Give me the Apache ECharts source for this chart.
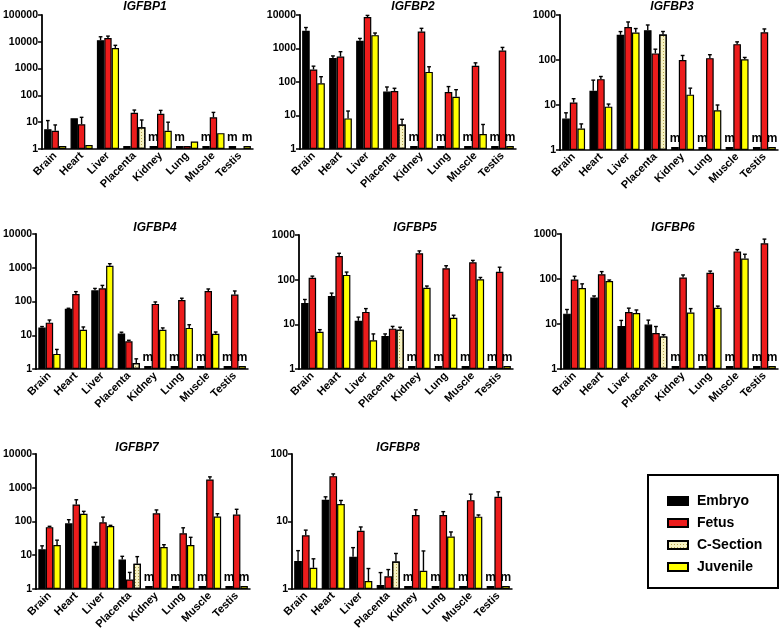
<!DOCTYPE html>
<html>
<head>
<meta charset="utf-8">
<script src="https://cdn.jsdelivr.net/npm/echarts@6/dist/echarts.min.js"></script>
<style>html,body{margin:0;padding:0;background:#fff;}#c{width:781px;height:632px;}</style>
</head>
<body>
<div id="c"></div>
<script>
// ---------- DATA ----------
const categories = ['Brain', 'Heart', 'Liver', 'Placenta', 'Kidney', 'Lung', 'Muscle', 'Testis'];
const panelNames = ['IGFBP1', 'IGFBP2', 'IGFBP3', 'IGFBP4', 'IGFBP5', 'IGFBP6', 'IGFBP7', 'IGFBP8'];
const yMax = [100000, 10000, 1000, 10000, 1000, 1000, 10000, 100];
const M = 'm'; // missing sample, shown as "m"

// one row per panel (IGFBP1..IGFBP8), one column per tissue
const embryo = [
  [5.5, 14, 11500, 1.1, M, M, M, M],
  [3370, 520, 1700, 52, M, M, M, M],
  [5.0, 20.7, 363, 460, M, M, M, M],
  [17.1, 61, 214, 11.3, M, M, M, M],
  [30, 43, 12, 5.5, M, M, M, M],
  [17, 39, 9, 9.7, M, M, M, M],
  [15, 88, 19, 7.5, M, M, M, M],
  [2.6, 21, 3.0, 1.15, M, M, M, M]
];
const embryoErr = [
  [6, 0, 3900, 0, 0, 0, 0, 0],
  [860, 80, 300, 19, 0, 0, 0, 0],
  [1.7, 15, 65, 140, 0, 0, 0, 0],
  [1, 2, 30, 1, 0, 0, 0, 0],
  [6, 7, 2.5, 0.6, 0, 0, 0, 0],
  [4, 3, 3, 2.5, 0, 0, 0, 0],
  [4, 25, 5, 1.8, 0, 0, 0, 0],
  [1.1, 2.2, 1.1, 0.6, 0, 0, 0, 0]
];
const fetus = [
  [4.8, 8.4, 13800, 22.6, 20.8, 1.1, 15.2, null],
  [237, 573, 8720, 54, 3200, 50, 303, 868],
  [11.4, 37.5, 543, 140, 100, 110, 225, 414],
  [23.6, 166, 245, 6.6, 85, 110, 205, 160],
  [110, 340, 19, 8, 390, 180, 245, 150],
  [97, 128, 18.5, 6.3, 108, 138, 410, 620],
  [68, 320, 95, 1.9, 175, 45, 1750, 160],
  [6.25, 47, 7.3, 1.54, 12.5, 12.5, 20.7, 23.2]
];
const fetusErr = [
  [3.1, 6.8, 2500, 5.8, 6.8, 0, 8, 0],
  [60, 230, 1000, 11, 800, 23, 70, 210],
  [2.4, 5.5, 157, 34, 26, 21, 28, 76],
  [4.7, 30, 55, 0.5, 12, 15, 30, 45],
  [10, 50, 3.5, 1, 50, 25, 25, 40],
  [18, 18, 4, 2.5, 15, 12, 40, 150],
  [4, 120, 40, 1.2, 45, 20, 350, 70],
  [1.2, 3.7, 1.0, 0.4, 2.4, 1.5, 4.7, 4.3]
];
const juvenile = [
  [1.1, 1.4, 5900, null, 4.8, 1.9, 3.9, M],
  [91, 8.2, 2500, null, 200, 36, 2.8, M],
  [3.0, 9.2, 407, null, 17, 7.6, 104, M],
  [2.8, 14.6, 1150, null, 14.5, 16.5, 11, M],
  [6.8, 128, 4.4, null, 66, 14, 102, M],
  [63, 90, 17.5, null, 18, 23, 285, M],
  [20, 170, 73, null, 17.5, 20, 140, M],
  [2.06, 18.1, 1.31, null, 1.86, 6.0, 11.8, M]
];
const juvenileErr = [
  [0, 0, 1500, 0, 5.2, 0, 0, 0],
  [53, 5.4, 400, 0, 85, 23, 2.6, 0],
  [0.8, 1.3, 93, 0, 6.7, 2.4, 10, 0],
  [1.0, 3, 170, 0, 2, 4, 1.5, 0],
  [0.8, 20, 1.7, 0, 6, 2, 10, 0],
  [15, 5, 3, 0, 4, 2, 70, 0],
  [8, 30, 4, 0, 3, 14, 30, 0],
  [0.74, 2.4, 0.7, 0, 1.8, 1.0, 0.7, 0]
];
// C-Section only exists for Placenta
const cSectionPlacenta = [6.5, 5.4, 370, 1.5, 7.6, 5.3, 5.6, 2.56];
const cSectionPlacentaErr = [5.6, 2.3, 60, 0.5, 1, 0.5, 3.5, 0.8];

// ---------- LAYOUT / STYLE ----------
const grids = [
  {left: 40, top: 15, width: 213, height: 134},
  {left: 300, top: 15, width: 216, height: 134},
  {left: 560, top: 15, width: 218, height: 135},
  {left: 32, top: 234, width: 216, height: 135},
  {left: 299, top: 235, width: 214, height: 134},
  {left: 561, top: 234, width: 217, height: 135},
  {left: 32, top: 454, width: 218, height: 136},
  {left: 292, top: 454, width: 220, height: 136}
];
const titlePos = [[145, 1], [413, 1], [672, 1], [155, 222], [415, 222], [673, 222], [137, 442], [398, 442]];
const FONT = 'Liberation Sans, Arial, sans-serif';
const GAP = 0.16;
const STUB = 1.05;
const colors = {Embryo: '#000000', Fetus: '#ec1c1c', 'C-Section': '#f6f2c2', Juvenile: '#ffff00'};

const mLabel = {show: true, position: 'top', distance: 2, formatter: 'm', color: '#000',
  fontWeight: 'bold', fontSize: 12, fontFamily: FONT};

function barData(arr) {
  return arr.map(v => {
    if (v === M) return {value: STUB, label: mLabel};
    if (v === null) return '-';
    return v;
  });
}

function barSeries(name, xi, yi, data, extra) {
  return Object.assign({
    name, type: 'bar', xAxisIndex: xi, yAxisIndex: yi, data,
    barGap: '0%', barCategoryGap: (GAP * 100) + '%', barMinHeight: 3,
    itemStyle: {color: colors[name], borderColor: '#000', borderWidth: 1.2},
    emphasis: {disabled: true}, animation: false
  }, extra || {});
}

function renderErr(params, api) {
  const cat = api.value(0), slot = api.value(1), v = api.value(2), e = api.value(3);
  const band = api.size([1, 0], [0, 1])[0];
  const gw = band * (1 - GAP);
  const bw = gw / 3;
  const p0 = api.coord([cat, v]);
  const p1 = api.coord([cat, v + e]);
  const x = p0[0] - gw / 2 + bw * (slot + 0.5);
  const cap = bw * 0.5;
  const st = {stroke: '#000', lineWidth: 1.4};
  return {type: 'group', children: [
    {type: 'line', shape: {x1: x, y1: p0[1], x2: x, y2: p1[1]}, style: st},
    {type: 'line', shape: {x1: x - cap / 2, y1: p1[1], x2: x + cap / 2, y2: p1[1]}, style: st}
  ]};
}

const option = {
  animation: false,
  backgroundColor: '#fff',
  textStyle: {fontFamily: FONT},
  title: panelNames.map((n, i) => ({
    text: n, left: titlePos[i][0], top: titlePos[i][1], textAlign: 'center', padding: 0,
    textStyle: {fontSize: 12, fontWeight: 'bold', fontStyle: 'italic', color: '#000', fontFamily: FONT}
  })),
  grid: grids,
  xAxis: [],
  yAxis: [],
  series: [],
  legend: {
    data: ['Embryo', 'Fetus', 'C-Section', 'Juvenile'],
    orient: 'vertical', left: 667, top: 494, padding: 0,
    itemWidth: 20, itemHeight: 8, itemGap: 8, icon: 'rect', selectedMode: false,
    textStyle: {fontSize: 14, fontWeight: 'bold', color: '#000', fontFamily: FONT, padding: [0, 0, 0, 4]}
  },
  graphic: [{type: 'rect', shape: {x: 648, y: 475, width: 130, height: 113},
    style: {fill: 'none', stroke: '#000', lineWidth: 2}, silent: true}]
};

panelNames.forEach((n, i) => {
  option.xAxis.push({
    type: 'category', gridIndex: i, data: categories,
    axisLine: {lineStyle: {color: '#000', width: 1.5}},
    axisTick: {show: false},
    axisLabel: {interval: 0, rotate: 45, margin: 5, color: '#000', fontWeight: 'bold', fontSize: 11, fontFamily: FONT}
  });
  option.xAxis.push({type: 'category', gridIndex: i, data: categories, show: false});
  option.yAxis.push({
    type: 'log', logBase: 10, gridIndex: i, min: 1, max: yMax[i],
    axisLine: {show: true, lineStyle: {color: '#000', width: 1.8}},
    axisTick: {show: true, length: 4, lineStyle: {color: '#000', width: 1.5}},
    splitLine: {show: false},
    axisLabel: {margin: 4, color: '#000', fontWeight: 'bold', fontSize: 10.5, fontFamily: FONT,
      formatter: v => String(Math.round(v))}
  });
  const xa = 2 * i, xb = 2 * i + 1;
  option.series.push(barSeries('Embryo', xa, i, barData(embryo[i])));
  option.series.push(barSeries('Fetus', xa, i, barData(fetus[i])));
  option.series.push(barSeries('Juvenile', xa, i, barData(juvenile[i])));
  // C-Section sits in the third slot of Placenta: two empty place-holders on a hidden twin axis
  const empty = categories.map(() => '-');
  option.series.push(barSeries('_slot1', xb, i, empty, {silent: true}));
  option.series.push(barSeries('_slot2', xb, i, empty, {silent: true}));
  const cs = categories.map((c, k) => k === 3 ? cSectionPlacenta[i] : '-');
  option.series.push(barSeries('C-Section', xb, i, cs, {
    itemStyle: {color: colors['C-Section'], borderColor: '#000', borderWidth: 1.2,
      decal: {symbol: 'rect', symbolSize: 1, dashArrayX: [1, 2], dashArrayY: [1, 2], color: '#b3a24e', rotation: 0}}
  }));
  // error bars
  const errs = [];
  const addErr = (vals, errsArr, slot) => vals.forEach((v, k) => {
    if (typeof v === 'number' && errsArr[k] > 0) errs.push([k, slot, v, errsArr[k]]);
  });
  addErr(embryo[i], embryoErr[i], 0);
  addErr(fetus[i], fetusErr[i], 1);
  addErr(juvenile[i], juvenileErr[i], 2);
  errs.push([3, 2, cSectionPlacenta[i], cSectionPlacentaErr[i]]);
  option.series.push({
    name: '_err', type: 'custom', xAxisIndex: xa, yAxisIndex: i, data: errs,
    encode: {x: 0, y: 2}, renderItem: renderErr, z: 5, silent: true, animation: false
  });
});

const chart = echarts.init(document.getElementById('c'), null, {renderer: 'canvas'});
chart.setOption(option);
</script>
</body>
</html>
